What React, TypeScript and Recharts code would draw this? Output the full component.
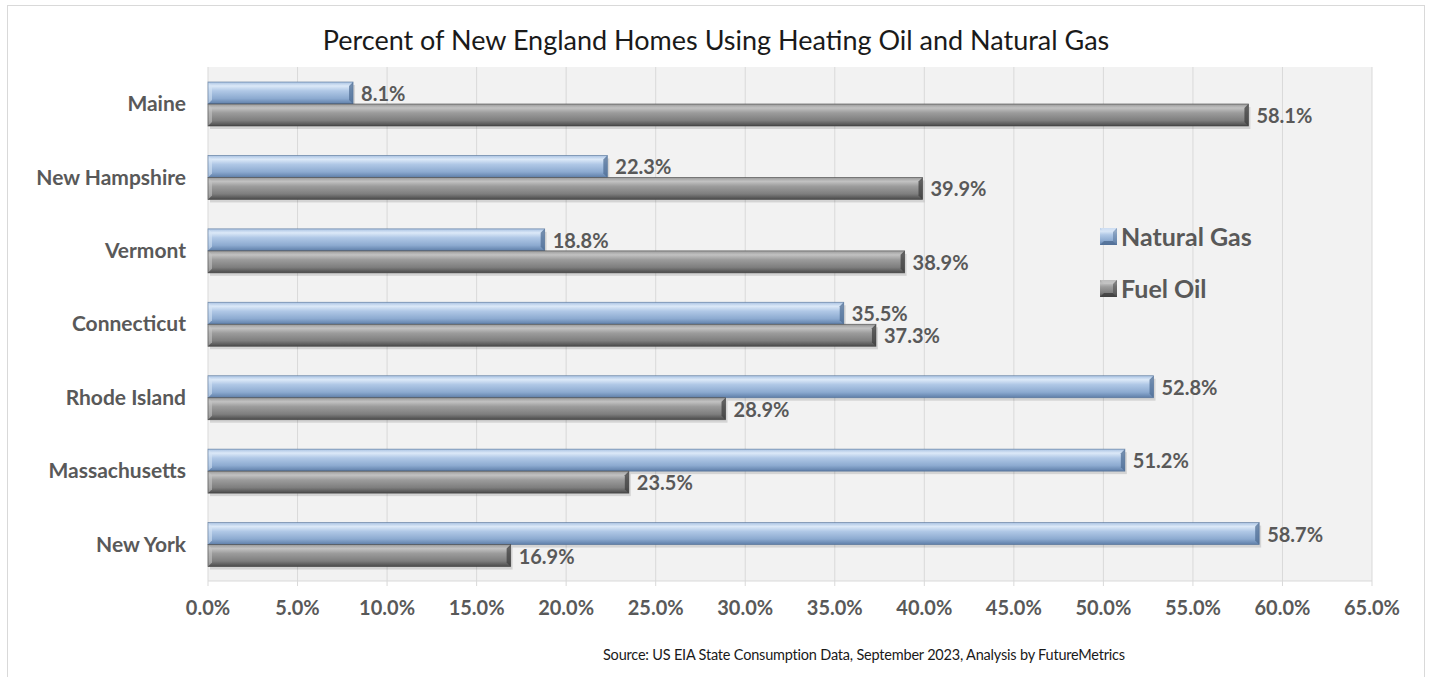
import React from "react";
import { BarChart, Bar, XAxis, YAxis, CartesianGrid, LabelList } from "recharts";

// Share of homes by heating fuel, percent (US EIA, Sept 2023)
const states = [
  "Maine",
  "New Hampshire",
  "Vermont",
  "Connecticut",
  "Rhode Island",
  "Massachusetts",
  "New York",
];
const naturalGas = [8.1, 22.3, 18.8, 35.5, 52.8, 51.2, 58.7];
const fuelOil = [58.1, 39.9, 38.9, 37.3, 28.9, 23.5, 16.9];
const xTicks = [0, 5, 10, 15, 20, 25, 30, 35, 40, 45, 50, 55, 60, 65];

const FONT = "Lato, 'Open Sans', sans-serif";
const LABEL_GRAY = "#595959";

const rows = states.map((state, i) => ({
  state,
  gas: naturalGas[i],
  oil: fuelOil[i],
}));

const fmt = (v: number) => `${v.toFixed(1)}%`;

// bevel colours for each series
const palette: Record<string, { grad: string; dark: string; light: string }> = {
  gas: { grad: "url(#gasGrad)", dark: "#4f6d94", light: "#d6e4f5" },
  oil: { grad: "url(#oilGrad)", dark: "#3f3f3f", light: "#c4c4c4" },
};

function BevelBar(props: any) {
  const { x, y, width, height, kind } = props;
  if (!width || width <= 0) return null;
  const c = palette[kind];
  const b = Math.min(4, width / 2);
  return (
    <g>
      {/* soft drop shadow */}
      <rect x={x + 2} y={y + 3} width={width} height={height} fill="#000" opacity={0.12} />
      <rect x={x} y={y} width={width} height={height} fill={c.grad} />
      {/* left end */}
      <polygon
        points={`${x},${y} ${x + b},${y + b} ${x + b},${y + height - b} ${x},${y + height}`}
        fill={c.light}
        opacity={0.6}
      />
      {/* right end */}
      <polygon
        points={`${x + width},${y} ${x + width - b},${y + b} ${x + width - b},${y + height - b} ${x + width},${y + height}`}
        fill={c.dark}
        opacity={0.75}
      />
      <rect x={x} y={y} width={width} height={height} fill="none" stroke={c.dark} strokeWidth={0.8} opacity={0.7} />
    </g>
  );
}

function ValueLabel(props: any) {
  const { x, y, width, height, value } = props;
  return (
    <text
      x={x + width + 8}
      y={y + height / 2}
      dominantBaseline="central"
      fontFamily={FONT}
      fontWeight={700}
      fontSize={20}
      fill={LABEL_GRAY}
    >
      {fmt(value)}
    </text>
  );
}

function Swatch({ kind }: { kind: string }) {
  const c = palette[kind];
  return (
    <svg width={17} height={17} style={{ marginRight: 4 }}>
      <rect x={0} y={0} width={17} height={17} fill={c.grad} />
      <polygon points="0,0 17,0 13,4 4,4" fill={c.light} opacity={0.8} />
      <polygon points="0,17 17,17 13,13 4,13" fill={c.dark} opacity={0.8} />
      <polygon points="17,0 17,17 13,13 13,4" fill={c.dark} opacity={0.5} />
    </svg>
  );
}

export default function App() {
  return (
    <div
      style={{
        position: "absolute",
        left: 7,
        top: 5,
        width: 1416,
        height: 680,
        border: "1px solid #d9d9d9",
        background: "#fff",
        fontFamily: FONT,
      }}
    >
      <svg width={0} height={0} style={{ position: "absolute" }}>
        <defs>
          <linearGradient id="gasGrad" x1="0" y1="0" x2="0" y2="1">
            <stop offset="0%" stopColor="#a9c2e2" />
            <stop offset="18%" stopColor="#dce9f8" />
            <stop offset="40%" stopColor="#b0c8e6" />
            <stop offset="75%" stopColor="#8caad0" />
            <stop offset="100%" stopColor="#5e7ea8" />
          </linearGradient>
          <linearGradient id="oilGrad" x1="0" y1="0" x2="0" y2="1">
            <stop offset="0%" stopColor="#9a9a9a" />
            <stop offset="18%" stopColor="#c2c2c2" />
            <stop offset="40%" stopColor="#9c9c9c" />
            <stop offset="75%" stopColor="#7e7e7e" />
            <stop offset="100%" stopColor="#4a4a4a" />
          </linearGradient>
        </defs>
      </svg>

      <div
        style={{
          position: "absolute",
          top: 19,
          left: 0,
          width: "100%",
          textAlign: "center",
          fontSize: 27,
          lineHeight: "30px",
          color: "#1a1a1a",
        }}
      >
        Percent of New England Homes Using Heating Oil and Natural Gas
      </div>

      <BarChart
        width={1416}
        height={671}
        data={rows}
        layout="vertical"
        margin={{ top: 61, right: 52, bottom: 56, left: 0 }}
        barSize={22}
        barGap={0}
      >
        <CartesianGrid horizontal={false} fill="#f2f2f2" stroke="#d9d9d9" />
        <XAxis
          type="number"
          domain={[0, 65]}
          ticks={xTicks}
          tickFormatter={fmt}
          height={40}
          axisLine={{ stroke: "#d9d9d9" }}
          tickLine={{ stroke: "#d9d9d9" }}
          tickSize={5}
          tickMargin={15}
          tick={{ fontSize: 20, fontWeight: 700, fill: LABEL_GRAY, fontFamily: FONT }}
        />
        <YAxis
          type="category"
          dataKey="state"
          width={200}
          axisLine={false}
          tickLine={false}
          tickSize={0}
          tickMargin={22}
          tick={{ fontSize: 21, fontWeight: 700, fill: LABEL_GRAY, fontFamily: FONT }}
        />
        <Bar
          dataKey="gas"
          name="Natural Gas"
          isAnimationActive={false}
          shape={(p: any) => <BevelBar {...p} kind="gas" />}
        >
          <LabelList dataKey="gas" content={ValueLabel} />
        </Bar>
        <Bar
          dataKey="oil"
          name="Fuel Oil"
          isAnimationActive={false}
          shape={(p: any) => <BevelBar {...p} kind="oil" />}
        >
          <LabelList dataKey="oil" content={ValueLabel} />
        </Bar>
      </BarChart>

      <div
        style={{
          position: "absolute",
          left: 1092,
          top: 204,
          fontSize: 25,
          fontWeight: 700,
          color: LABEL_GRAY,
        }}
      >
        {[
          { kind: "gas", label: "Natural Gas" },
          { kind: "oil", label: "Fuel Oil" },
        ].map((item) => (
          <div key={item.kind} style={{ display: "flex", alignItems: "center", height: 52 }}>
            <Swatch kind={item.kind} />
            <span>{item.label}</span>
          </div>
        ))}
      </div>

      <div
        style={{
          position: "absolute",
          left: 595,
          top: 640,
          fontSize: 14.5,
          letterSpacing: -0.2,
          lineHeight: "18px",
          color: "#1a1a1a",
          whiteSpace: "nowrap",
        }}
      >
        Source: US EIA State Consumption Data, September 2023,  Analysis by FutureMetrics
      </div>
    </div>
  );
}
